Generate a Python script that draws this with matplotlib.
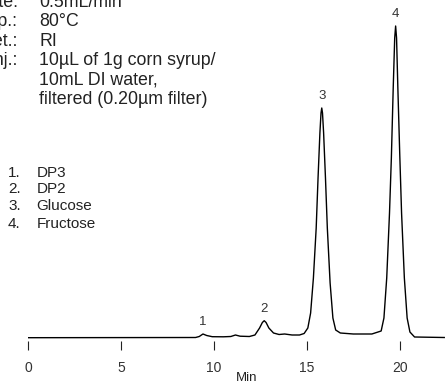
import matplotlib
matplotlib.use("Agg")
import matplotlib.pyplot as plt
import numpy as np

plt.rcParams['font.family'] = ['Liberation Sans', 'DejaVu Sans']

# chromatogram (time in min, detector signal in arbitrary units)
time = [0.0, 9.0, 9.2, 9.4, 9.6, 9.9, 10.5, 10.9, 11.15, 11.4, 11.9, 12.2,
        12.45, 12.6, 12.7, 12.8, 12.95, 13.2, 13.5, 13.8, 14.2, 14.6, 14.85,
        15.05, 15.2, 15.35, 15.5, 15.6, 15.7, 15.76, 15.8, 15.84, 15.9, 16.0,
        16.1, 16.25, 16.4, 16.55, 16.8, 17.5, 18.5, 19.0, 19.15, 19.3, 19.45,
        19.55, 19.65, 19.73, 19.78, 19.83, 19.9, 20.0, 20.1, 20.25, 20.4,
        20.55, 20.8, 22.4]
signal = [0.3, 0.5, 1.5, 4.0, 2.5, 1.3, 1.2, 1.5, 3.0, 1.8, 1.5, 3.0,
          10.0, 15.5, 17.3, 15.5, 10.0, 5.0, 3.5, 4.0, 3.0, 3.0, 4.5,
          10.0, 25.0, 60.0, 110.0, 160.0, 205.0, 225.0, 230.0, 225.0, 205.0, 160.0,
          110.0, 55.0, 20.0, 8.0, 5.0, 4.0, 4.0, 7.0, 20.0, 60.0, 125.0,
          180.0, 250.0, 300.0, 312.0, 300.0, 250.0, 185.0, 125.0, 60.0, 20.0,
          6.0, 1.0, 0.5]

peak_ids = ['1', '2', '3', '4']
peak_rt = [9.4, 12.7, 15.8, 19.78]
peak_names = ['DP3', 'DP2', 'Glucose', 'Fructose']

cond_keys = ['Flow rate:', 'Temp.:', 'Det.:', 'Inj.:']
cond_vals = ['0.5mL/min', '80\u00b0C', 'RI',
             '10\u00b5L of 1g corn syrup/\n10mL DI water,\nfiltered (0.20\u00b5m filter)']

W, H = 445, 383
fig = plt.figure(figsize=(W / 100, H / 100), dpi=100)
ax = fig.add_axes([28.5 / W, 42 / H, (W - 28.5) / W, 341 / H])
ax.plot(time, signal, color='black', lw=1.0)
ax.set_xlim(0, 22.44)
ax.set_ylim(-3, 338)

for s in ax.spines.values():
    s.set_visible(False)
ax.set_yticks([])
ax.set_xticks([0, 5, 10, 15, 20])
ax.tick_params(axis='x', length=6.5, width=0.8, color='#222222', pad=8,
               labelsize=10, labelcolor='#333333')

# peak numbers above each peak
t_arr = np.array(time)
s_arr = np.array(signal)
for lab, rt in zip(peak_ids, peak_rt):
    top = s_arr[np.abs(t_arr - rt) < 0.3].max()
    ax.annotate(lab, xy=(rt, top), xytext=(0, 4), textcoords='offset points',
                ha='center', va='bottom', fontsize=9.5, color='#333333')

def px(x, y):
    return x / W, 1 - y / H

# run conditions, cut at the left edge like the reference
base_y = [6.8, 26.5, 45.5, 64.8]
for k, v, y in zip(cond_keys, cond_vals, base_y):
    fig.text(*px(18, y), k, ha='right', va='baseline', fontsize=12.8, color='#222222')
    lines = v.split('\n')
    for i, ln in enumerate(lines):
        fig.text(*px(39.3, y + i * 19.5), ln, ha='left', va='baseline',
                 fontsize=12.8, color='#222222')

# peak list
list_y = [176.8, 193, 210, 227.5]
for lab, name, y in zip(peak_ids, peak_names, list_y):
    fig.text(*px(8, y), lab + '.', ha='left', va='baseline', fontsize=11, color='#222222')
    fig.text(*px(36.7, y), name, ha='left', va='baseline', fontsize=11, color='#222222')

fig.text(246.7 / W, 1 - 381 / H, 'Min', ha='center', va='baseline', fontsize=9.5,
         color='#222222')

fig.savefig('out.png', dpi=100)
